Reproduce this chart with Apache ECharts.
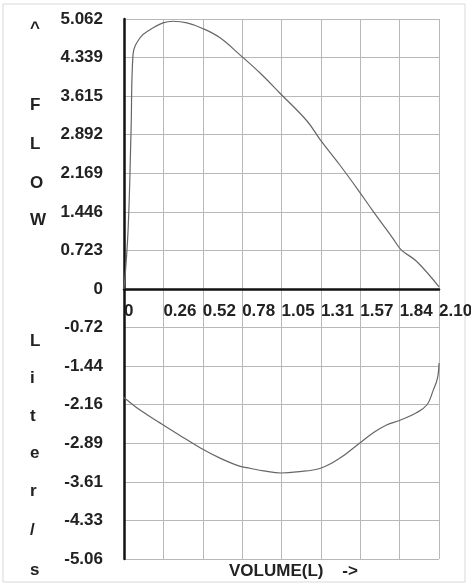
<!DOCTYPE html>
<html>
<head>
    <meta charset="UTF-8">
    <title>Flow Volume</title>
    <style>
        html, body {
            height: 100%;
            width: 100%;
            margin: 0;
            padding: 0;
            background: #fff;
        }
    </style>
    <script src="https://cdn.jsdelivr.net/npm/echarts@6/dist/echarts.min.js"></script>
</head>
<body>
<div id="main" style="width: 471px; height: 585px;"></div>

<script type="text/javascript">
    // x轴刻度
    var xTickLabels = ['0', '0.26', '0.52', '0.78', '1.05', '1.31', '1.57', '1.84', '2.10'];
    // y轴刻度 (从下到上)
    var yTickLabels = ['-5.06', '-4.33', '-3.61', '-2.89', '-2.16', '-1.44', '-0.72', '0',
        '0.723', '1.446', '2.169', '2.892', '3.615', '4.339', '5.062'];
    // 呼气 [volume, flow]
    var expVolume = [0, 0.027, 0.047, 0.06, 0.107, 0.173, 0.26, 0.327, 0.42, 0.52, 0.64, 0.773,
        0.907, 1.04, 1.22, 1.31, 1.44, 1.56, 1.66, 1.79, 1.85, 1.95, 2.10];
    var expFlow = [0, 1.09, 2.96, 4.39, 4.71, 4.86, 4.99, 5.02, 4.99, 4.89, 4.71, 4.39,
        4.05, 3.67, 3.15, 2.79, 2.32, 1.86, 1.46, 0.96, 0.73, 0.52, 0.04];
    // 吸气
    var inspVolume = [-0.093, 0, 0.107, 0.24, 0.37, 0.51, 0.64, 0.77, 0.84, 0.93, 1.05, 1.15,
        1.31, 1.44, 1.57, 1.66, 1.75, 1.84, 1.95, 2.02, 2.06, 2.09, 2.10];
    var inspFlow = [-1.86, -2.04, -2.27, -2.51, -2.74, -2.98, -3.17, -3.32, -3.36, -3.41, -3.45, -3.43,
        -3.36, -3.17, -2.89, -2.70, -2.55, -2.46, -2.32, -2.17, -1.91, -1.67, -1.39];

    var yMax = 5.062;
    var yStep = yMax / 7;

    function pairs(xs, ys) {
        var out = [];
        for (var i = 0; i < xs.length; i++) {
            out.push([xs[i], ys[i]]);
        }
        return out;
    }

    var titleFont = {fontFamily: 'Liberation Sans', fontWeight: 'bold', fontSize: 17, fill: '#222'};
    // 竖排的 y 轴标题, 每个字母一行
    var axisLetters = [['^', 30], ['F', 107], ['L', 146], ['O', 185], ['W', 222],
        ['L', 343], ['i', 380], ['t', 418], ['e', 455], ['r', 493], ['/', 532], ['s', 572]];
    var graphics = axisLetters.map(function (p) {
        return {
            type: 'text', left: 30, top: p[1] - 10,
            style: Object.assign({text: p[0]}, titleFont)
        };
    });
    graphics.push({
        type: 'text', left: 229, top: 563,
        style: Object.assign({text: 'VOLUME(L)    ->'}, titleFont)
    });
    graphics.push({
        type: 'rect', shape: {x: 3, y: 4, width: 462, height: 578},
        style: {fill: 'none', stroke: '#d8d8d8', lineWidth: 1}
    });

    var labelFont = {
        color: '#222',
        fontFamily: 'Liberation Sans',
        fontWeight: 'bold',
        fontSize: 17
    };

    var myChart = echarts.init(document.getElementById('main'));
    var option = {
        backgroundColor: '#fff',
        animation: false,
        graphic: graphics,
        grid: {
            left: 124,
            right: 32,
            top: 19,
            bottom: 26,
            outerBoundsMode: 'none',
            show: false
        },
        xAxis: [{
            type: 'value',
            min: 0,
            max: 2.1,
            interval: 0.2625,
            axisLine: {
                show: true,
                onZero: true,
                lineStyle: {color: '#111', width: 2.5}
            },
            axisTick: {show: false},
            axisLabel: {show: false},
            splitLine: {
                show: true,
                lineStyle: {color: '#b8b8b8', width: 1}
            }
        }, {
            // 只用来在零线下面显示刻度文字
            type: 'value',
            position: 'bottom',
            offset: -270,
            min: 0,
            max: 2.1,
            interval: 0.2625,
            axisLine: {show: false, onZero: false},
            axisTick: {show: false},
            splitLine: {show: false},
            axisLabel: Object.assign({
                margin: 14,
                align: 'left',
                showMaxLabel: true,
                formatter: function (v, i) {
                    return xTickLabels[i];
                }
            }, labelFont)
        }],
        yAxis: {
            type: 'value',
            min: -yMax,
            max: yMax,
            interval: yStep,
            axisLine: {
                show: true,
                onZero: false,
                lineStyle: {color: '#111', width: 2.5}
            },
            axisTick: {show: false},
            axisLabel: Object.assign({
                margin: 21,
                padding: [0, 0, 7, 0],
                formatter: function (v, i) {
                    return yTickLabels[i];
                }
            }, labelFont),
            splitLine: {
                show: true,
                lineStyle: {color: '#b8b8b8', width: 1}
            }
        },
        series: [{
            name: 'expiration',
            type: 'line',
            smooth: 0.4,
            showSymbol: false,
            clip: false,
            data: pairs(expVolume, expFlow),
            lineStyle: {color: '#666', width: 1.2}
        }, {
            name: 'inspiration',
            type: 'line',
            smooth: 0.4,
            showSymbol: false,
            clip: false,
            data: pairs(inspVolume, inspFlow),
            lineStyle: {color: '#666', width: 1.2}
        }]
    };
    myChart.setOption(option);
</script>
</body>
</html>
